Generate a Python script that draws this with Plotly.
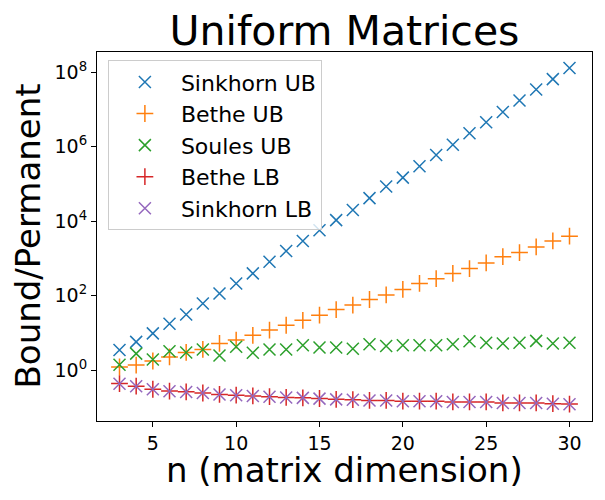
import plotly.graph_objects as go

# matrix sizes
n_vals = list(range(3, 31))

# bound / permanent ratios
sinkhorn_ub = [3.5, 5.8, 9.8, 17.8, 31.6, 61.7, 115, 214, 398, 813, 1585, 2950,
               5750, 10700, 2.0e4, 4.17e4, 8.5e4, 1.48e5, 3.0e5, 6.0e5, 1.12e6,
               2.3e6, 4.5e6, 8.5e6, 1.74e7, 3.4e7, 6.5e7, 1.29e8]
bethe_ub = [1.23, 1.38, 1.78, 2.29, 3.02, 3.63, 5.25, 6.46, 8.7, 12.0, 16.2,
            21.9, 30.2, 42.7, 56.2, 79.4, 105, 148, 214, 288, 398, 537, 759,
            1122, 1445, 2042, 2951, 3981]
soules_ub = [1.41, 2.8, 1.95, 3.24, 3.02, 3.63, 2.51, 4.27, 2.95, 3.63, 3.63,
             4.68, 4.07, 4.07, 3.8, 5.0, 4.47, 4.68, 4.68, 4.68, 5.0, 6.03, 5.5,
             5.25, 5.5, 6.17, 5.25, 5.5]
bethe_lb = [0.44, 0.375, 0.31, 0.277, 0.264, 0.246, 0.225, 0.215, 0.205, 0.196,
            0.187, 0.183, 0.175, 0.167, 0.163, 0.156, 0.156, 0.149, 0.149, 0.149,
            0.142, 0.142, 0.142, 0.133, 0.133, 0.133, 0.127, 0.124]
sinkhorn_lb = [0.437, 0.372, 0.309, 0.275, 0.263, 0.245, 0.224, 0.214, 0.204,
               0.195, 0.186, 0.182, 0.174, 0.166, 0.162, 0.155, 0.155, 0.148,
               0.148, 0.148, 0.141, 0.141, 0.141, 0.132, 0.132, 0.132, 0.126, 0.123]

series = [
    ('Sinkhorn UB', sinkhorn_ub, '#1f77b4', 'x-thin'),
    ('Bethe UB', bethe_ub, '#ff7f0e', 'cross-thin'),
    ('Soules UB', soules_ub, '#2ca02c', 'x-thin'),
    ('Bethe LB', bethe_lb, '#d62728', 'cross-thin'),
    ('Sinkhorn LB', sinkhorn_lb, '#9467bd', 'x-thin'),
]

y_tickvals = [1, 1e2, 1e4, 1e6, 1e8]
y_ticktext = ['10<sup>0</sup>', '10<sup>2</sup>', '10<sup>4</sup>',
              '10<sup>6</sup>', '10<sup>8</sup>']
x_tickvals = [5, 10, 15, 20, 25, 30]

fig = go.Figure()
for name, vals, col, sym in series:
    fig.add_trace(go.Scatter(
        x=n_vals, y=vals, mode='markers', name=name,
        marker=dict(symbol=sym, size=12, color=col,
                    line=dict(color=col, width=1.5)),
    ))

# the page body has an 8px margin, so the figure is a bit smaller than the window
# plot area: 495 x 369 px
fig.update_layout(
    width=597, height=492,
    margin=dict(l=89, r=13, t=44, b=79, autoexpand=False),
    paper_bgcolor='white', plot_bgcolor='white',
    font=dict(family='DejaVu Sans', color='black'),
    title=dict(text='Uniform Matrices', font=dict(size=41),
               x=0.5, xref='paper', xanchor='center',
               y=1 - 23 / 492, yref='container', yanchor='middle',
               automargin=False),
    legend=dict(x=0.022, y=0.978, xanchor='left', yanchor='top',
                bgcolor='rgba(255,255,255,0.8)', bordercolor='#cccccc',
                borderwidth=1, font=dict(size=22), itemwidth=62),
    annotations=[
        dict(text='n (matrix dimension)', font=dict(size=34),
             x=0.5, xref='paper', xanchor='center',
             y=-49 / 369, yref='paper', yanchor='middle', showarrow=False),
        dict(text='Bound/Permanent', font=dict(size=34), textangle=-90,
             x=-70 / 495, xref='paper', xanchor='center',
             y=0.5, yref='paper', yanchor='middle', showarrow=False),
    ],
)

fig.update_xaxes(
    range=[1.65, 31.35], tickvals=x_tickvals,
    showgrid=False, zeroline=False, automargin=False,
    showline=True, linecolor='black', linewidth=1.2, mirror=True,
    ticks='outside', ticklen=5, tickcolor='black', tickwidth=1.2,
    tickfont=dict(size=19),
)
fig.update_yaxes(
    type='log', range=[-1.36, 8.54],
    tickvals=y_tickvals, ticktext=y_ticktext,
    showgrid=False, zeroline=False, automargin=False,
    showline=True, linecolor='black', linewidth=1.2, mirror=True,
    ticks='outside', ticklen=5, tickcolor='black', tickwidth=1.2,
    tickfont=dict(size=19),
)

fig.write_html('out.html')
